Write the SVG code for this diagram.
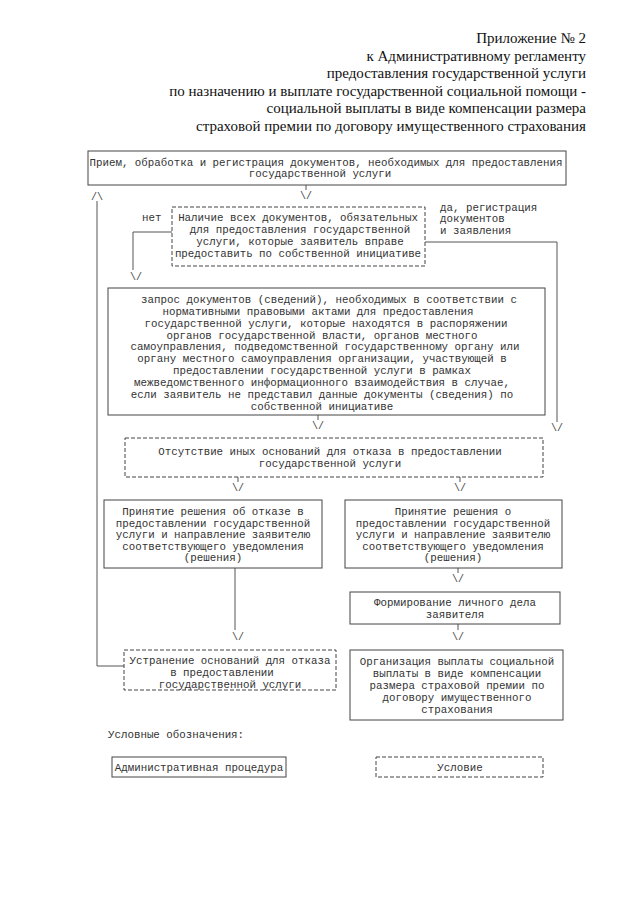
<svg xmlns="http://www.w3.org/2000/svg" width="640" height="905" viewBox="0 0 640 905">
<style>
.hdr{font-family:"Liberation Serif","Times New Roman",serif;font-size:15px;fill:#111;text-anchor:end}
.t{font-family:"Liberation Mono","Courier New",monospace;font-size:10.8px;fill:#333;text-anchor:middle}
.ts{font-family:"Liberation Mono","Courier New",monospace;font-size:10.8px;fill:#333}
.proc{fill:#fff;stroke:#444;stroke-width:1}
.cond{fill:#fff;stroke:#444;stroke-width:1;stroke-dasharray:4 2}
.ln{fill:none;stroke:#555;stroke-width:1}
.ar{font-family:"Liberation Mono","Courier New",monospace;font-size:10px;fill:#444;text-anchor:middle}
</style>
<rect width="640" height="905" fill="#fff"/>
<g id="header">
<text class="hdr" x="586" y="43">Приложение № 2</text>
<text class="hdr" x="586" y="61">к Административному регламенту</text>
<text class="hdr" x="586" y="78">предоставления государственной услуги</text>
<text class="hdr" x="586" y="96">по назначению и выплате государственной социальной помощи -</text>
<text class="hdr" x="586" y="113">социальной выплаты в виде компенсации размера</text>
<text class="hdr" x="586" y="131">страховой премии по договору имущественного страхования</text>
</g>
<g id="connectors">
<path class="ln" d="M306,185 V190"/>
<text class="ar" x="306" y="199">\/</text>
<path class="ln" d="M97,201 V666 H125"/>
<text class="ar" x="97" y="200">/\</text>
<path class="ln" d="M172,232 H133 V270"/>
<text class="ar" x="136" y="280">\/</text>
<path class="ln" d="M425,242 H557 V422"/>
<text class="ar" x="557" y="431">\/</text>
<path class="ln" d="M318,415 V420"/>
<text class="ar" x="318" y="429">\/</text>
<path class="ln" d="M238,477 V482"/>
<text class="ar" x="238" y="491">\/</text>
<path class="ln" d="M460,477 V482"/>
<text class="ar" x="460" y="491">\/</text>
<path class="ln" d="M235,568 V630"/>
<text class="ar" x="238" y="640">\/</text>
<path class="ln" d="M458,568 V573"/>
<text class="ar" x="458" y="582">\/</text>
<path class="ln" d="M458,624 V630"/>
<text class="ar" x="458" y="640">\/</text>
<text class="ts" x="142" y="221">нет</text>
<text class="ts" x="440" y="211">да, регистрация</text>
<text class="ts" x="440" y="222">документов</text>
<text class="ts" x="440" y="234">и заявления</text>
</g>
<g id="n1">
<rect class="proc" x="88" y="151" width="478" height="34"/>
<text class="t" x="326" y="166">Прием, обработка и регистрация документов, необходимых для предоставления</text>
<text class="t" x="320" y="177">государственной услуги</text>
</g>
<g id="n2">
<rect class="cond" x="172" y="207" width="253" height="59"/>
<text class="t" x="298" y="221">Наличие всех документов, обязательных</text>
<text class="t" x="300" y="233">для предоставления государственной</text>
<text class="t" x="300" y="245">услуги, которые заявитель вправе</text>
<text class="t" x="298" y="257">предоставить по собственной инициативе</text>
</g>
<g id="n3">
<rect class="proc" x="108" y="288" width="437" height="127"/>
<text class="t" x="329" y="303">запрос документов (сведений), необходимых в соответствии с</text>
<text class="t" x="318" y="315">нормативными правовыми актами для предоставления</text>
<text class="t" x="326" y="327">государственной услуги, которые находятся в распоряжении</text>
<text class="t" x="322" y="339">органов государственной власти, органов местного</text>
<text class="t" x="325" y="350">самоуправления, подведомственной государственному органу или</text>
<text class="t" x="322" y="362">органу местного самоуправления организации, участвующей в</text>
<text class="t" x="322" y="374">предоставлении государственной услуги в рамках</text>
<text class="t" x="322" y="386">межведомственного информационного взаимодействия в случае,</text>
<text class="t" x="322" y="398">если заявитель не представил данные документы (сведения) по</text>
<text class="t" x="322" y="410">собственной инициативе</text>
</g>
<g id="n4">
<rect class="cond" x="125" y="438" width="418" height="39"/>
<text class="t" x="330" y="455">Отсутствие иных оснований для отказа в предоставлении</text>
<text class="t" x="330" y="467">государственной услуги</text>
</g>
<g id="n5">
<rect class="proc" x="104" y="500" width="218" height="68"/>
<text class="t" x="213" y="515">Принятие решения об отказе в</text>
<text class="t" x="213" y="527">предоставлении государственной</text>
<text class="t" x="213" y="538">услуги и направление заявителю</text>
<text class="t" x="213" y="550">соответствующего уведомления</text>
<text class="t" x="213" y="561">(решения)</text>
</g>
<g id="n6">
<rect class="proc" x="345" y="500" width="217" height="68"/>
<text class="t" x="453" y="515">Принятие решения о</text>
<text class="t" x="453" y="527">предоставлении государственной</text>
<text class="t" x="453" y="538">услуги и направление заявителю</text>
<text class="t" x="453" y="550">соответствующего уведомления</text>
<text class="t" x="453" y="561">(решения)</text>
</g>
<g id="n7">
<rect class="proc" x="350" y="592" width="210" height="32"/>
<text class="t" x="455" y="606">Формирование личного дела</text>
<text class="t" x="455" y="618">заявителя</text>
</g>
<g id="n8">
<rect class="cond" x="124" y="650" width="212" height="40"/>
<text class="t" x="230" y="664">Устранение оснований для отказа</text>
<text class="t" x="222" y="676">в предоставлении</text>
<text class="t" x="230" y="688">государственной услуги</text>
</g>
<g id="n9">
<rect class="proc" x="350" y="650" width="213" height="70"/>
<text class="t" x="457" y="665">Организация выплаты социальной</text>
<text class="t" x="457" y="677">выплаты в виде компенсации</text>
<text class="t" x="457" y="689">размера страховой премии по</text>
<text class="t" x="457" y="701">договору имущественного</text>
<text class="t" x="457" y="713">страхования</text>
</g>
<g id="legend">
<text class="ts" x="108" y="738">Условные обозначения:</text>
<rect class="proc" x="112" y="757" width="174" height="20"/>
<text class="t" x="199" y="771">Административная процедура</text>
<rect class="cond" x="376" y="757" width="167" height="20"/>
<text class="t" x="460" y="771">Условие</text>
</g>
</svg>
